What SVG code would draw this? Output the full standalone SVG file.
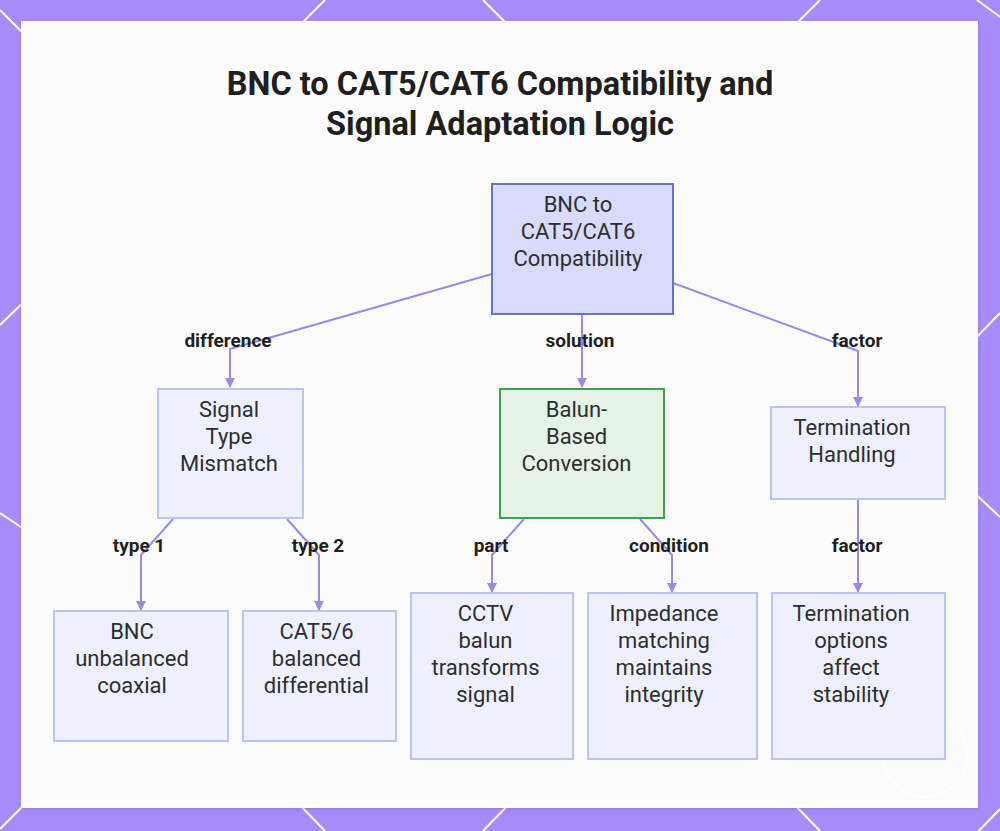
<svg xmlns="http://www.w3.org/2000/svg" width="1000" height="831" viewBox="0 0 1000 831">
<style>
.frame-line{stroke:#ffffff;stroke-width:2;fill:none}
.title{font-family:Roboto,"Liberation Sans",sans-serif;font-weight:bold;font-size:32.5px;fill:#1f1f1f;text-anchor:middle}
.node rect{stroke-width:2}
.main rect{fill:#d8dcfc;stroke:#6673c9}
.leaf rect{fill:#eef1fd;stroke:#bcc4f2}
.green rect{fill:#e4f3e5;stroke:#40a04c}
.node text{font-family:Roboto,"Liberation Sans",sans-serif;font-size:22px;fill:#2e2e2e;text-anchor:middle}
.edge{stroke:#9d88e4;stroke-width:2;fill:none;stroke-linejoin:round}
.elabel{font-family:Roboto,"Liberation Sans",sans-serif;font-weight:bold;font-size:19px;fill:#1f1f1f;text-anchor:middle}
</style>
<defs>
<marker id="arrow" viewBox="0 0 10 10" refX="9" refY="5" markerWidth="5" markerHeight="5" orient="auto">
<path d="M0,0 L10,5 L0,10 z" fill="#9d88e4"/>
</marker>
<filter id="shadow" x="-5%" y="-5%" width="110%" height="110%">
<feDropShadow dx="0" dy="1" stdDeviation="1.5" flood-color="#6b4fd0" flood-opacity="0.35"/>
</filter>
</defs>
<g id="background">
<rect x="0" y="0" width="1000" height="831" fill="#a78bf8"/>
<line class="frame-line" x1="0" y1="10" x2="30" y2="40"/>
<line class="frame-line" x1="325" y1="0" x2="295" y2="30"/>
<line class="frame-line" x1="483" y1="0" x2="513" y2="30"/>
<line class="frame-line" x1="820" y1="0" x2="790" y2="30"/>
<line class="frame-line" x1="977" y1="0" x2="1007" y2="22"/>
<line class="frame-line" x1="0" y1="325" x2="30" y2="296"/>
<line class="frame-line" x1="0" y1="513" x2="30" y2="533"/>
<line class="frame-line" x1="0" y1="829" x2="30" y2="799"/>
<line class="frame-line" x1="1000" y1="313" x2="970" y2="344"/>
<line class="frame-line" x1="1000" y1="517" x2="970" y2="489"/>
<line class="frame-line" x1="1000" y1="809" x2="970" y2="840"/>
<line class="frame-line" x1="325" y1="831" x2="295" y2="800"/>
<line class="frame-line" x1="483" y1="831" x2="513" y2="800"/>
<line class="frame-line" x1="820" y1="831" x2="790" y2="800"/>
<rect x="22" y="22" width="955" height="785" fill="#fbfbfb" stroke="#ffffff" stroke-width="2" filter="url(#shadow)"/>
<circle cx="925" cy="755" r="42" fill="none" stroke="#ffffff" stroke-width="1.5" opacity="0.9"/>
</g>
<g id="title">
<text class="title" x="500" y="95">BNC to CAT5/CAT6 Compatibility and</text>
<text class="title" x="500" y="135">Signal Adaptation Logic</text>
</g>
<g id="connectors">
<polyline class="edge" points="492,274 230,349 230,387" marker-end="url(#arrow)"/>
<polyline class="edge" points="582,314 582,387" marker-end="url(#arrow)"/>
<polyline class="edge" points="673,283 858,351 858,406" marker-end="url(#arrow)"/>
<polyline class="edge" points="173,519 141,555 141,610" marker-end="url(#arrow)"/>
<polyline class="edge" points="287,519 319,555 319,610" marker-end="url(#arrow)"/>
<polyline class="edge" points="524,519 492,555 492,592" marker-end="url(#arrow)"/>
<polyline class="edge" points="640,519 672,555 672,592" marker-end="url(#arrow)"/>
<polyline class="edge" points="858,499 858,592" marker-end="url(#arrow)"/>
<text class="elabel" x="228" y="347">difference</text>
<text class="elabel" x="580" y="347">solution</text>
<text class="elabel" x="857" y="347">factor</text>
<text class="elabel" x="139" y="552">type 1</text>
<text class="elabel" x="318" y="552">type 2</text>
<text class="elabel" x="491" y="552">part</text>
<text class="elabel" x="669" y="552">condition</text>
<text class="elabel" x="857" y="552">factor</text>
</g>
<g id="node-root" class="node main">
<rect x="492" y="184" width="181" height="130"/>
<text x="578" y="212">BNC to</text>
<text x="578" y="239">CAT5/CAT6</text>
<text x="578" y="266">Compatibility</text>
</g>
<g id="node-mismatch" class="node leaf">
<rect x="158" y="389" width="145" height="129"/>
<text x="229" y="417">Signal</text>
<text x="229" y="444">Type</text>
<text x="229" y="471">Mismatch</text>
</g>
<g id="node-balun" class="node green">
<rect x="500" y="389" width="164" height="129"/>
<text x="576.5" y="417">Balun-</text>
<text x="576.5" y="444">Based</text>
<text x="576.5" y="471">Conversion</text>
</g>
<g id="node-termination" class="node leaf">
<rect x="771" y="407" width="174" height="92"/>
<text x="852" y="435">Termination</text>
<text x="852" y="462">Handling</text>
</g>
<g id="node-bnc" class="node leaf">
<rect x="54" y="611" width="174" height="130"/>
<text x="132" y="639">BNC</text>
<text x="132" y="666">unbalanced</text>
<text x="132" y="693">coaxial</text>
</g>
<g id="node-cat" class="node leaf">
<rect x="243" y="611" width="153" height="130"/>
<text x="316.5" y="639">CAT5/6</text>
<text x="316.5" y="666">balanced</text>
<text x="316.5" y="693">differential</text>
</g>
<g id="node-cctv" class="node leaf">
<rect x="411" y="593" width="162" height="166"/>
<text x="485.5" y="621">CCTV</text>
<text x="485.5" y="648">balun</text>
<text x="485.5" y="675">transforms</text>
<text x="485.5" y="702">signal</text>
</g>
<g id="node-impedance" class="node leaf">
<rect x="588" y="593" width="169" height="166"/>
<text x="664" y="621">Impedance</text>
<text x="664" y="648">matching</text>
<text x="664" y="675">maintains</text>
<text x="664" y="702">integrity</text>
</g>
<g id="node-options" class="node leaf">
<rect x="772" y="593" width="173" height="166"/>
<text x="851" y="621">Termination</text>
<text x="851" y="648">options</text>
<text x="851" y="675">affect</text>
<text x="851" y="702">stability</text>
</g>
</svg>
